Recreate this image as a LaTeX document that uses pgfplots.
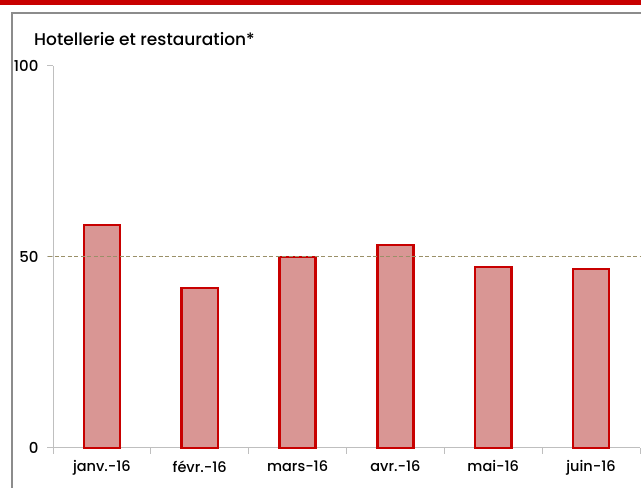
\documentclass[border=0pt]{standalone}
\usepackage{fontspec}
\setmainfont{Poppins}[UprightFont=* Medium]
\usepackage{pgfplots}
\pgfplotsset{compat=1.18}
\definecolor{barred}{HTML}{C80000}
\definecolor{barfill}{HTML}{D99694}
\definecolor{refline}{HTML}{9A9068}
\definecolor{axgrey}{HTML}{BFBFBF}
\definecolor{framegrey}{HTML}{8C8C8C}

\begin{document}
\begin{tikzpicture}
\useasboundingbox (0pt,0pt) rectangle (641pt,488pt);
\fill[barred] (0pt,483pt) rectangle (641pt,488pt);
\draw[framegrey, line width=1.5pt] (12pt,0pt) -- (12pt,475pt) -- (641pt,475pt);
\node[anchor=base west, inner sep=0pt, font=\fontsize{17}{20}\selectfont] at (34pt,442pt) {Hotellerie et restauration*};
\begin{axis}[
  at={(53pt,40pt)}, anchor=south west,
  scale only axis, width=587pt, height=382pt,
  xmin=-0.5, xmax=5.5, ymin=0, ymax=100,
  clip=false,
  axis x line*=bottom, axis y line*=left,
  axis line style={axgrey, line width=1pt, -},
  tick style={axgrey, line width=1pt},
  tick align=outside, major tick length=6pt,
  ytick={0,50,100},
  xtick={-0.5,0.5,...,5.5},
  x tick label as interval,
  xticklabels={janv.-16,févr.-16,mars-16,avr.-16,mai-16,juin-16},
  ticklabel style={font=\fontsize{14.5}{16}\selectfont, text=black},
  yticklabel style={font=\fontsize{15}{17}\selectfont, xshift=-5pt},
  /pgf/number format/assume math mode=true,
  xticklabel style={yshift=-3pt},
]
\addplot[ybar, bar width=0.37, fill=barfill, draw=barred, line width=2.5pt]
  coordinates {(0,58.4) (1,41.9) (2,50) (3,53.1) (4,47.4) (5,46.9)};
\addplot[refline, line width=1pt, dash pattern=on 4pt off 2.5pt]
  coordinates {(-0.55,50) (5.5,50)};
\end{axis}
\end{tikzpicture}
\end{document}
